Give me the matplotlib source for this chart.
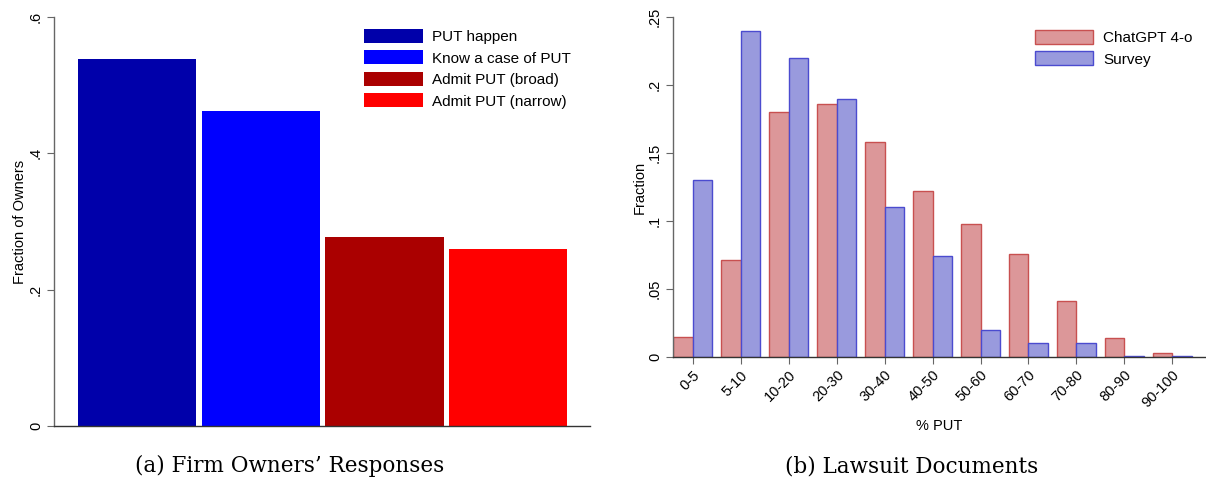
import numpy as np
import matplotlib
matplotlib.use("Agg")
import matplotlib.pyplot as plt
from matplotlib.patches import Patch

plt.rcParams['font.family'] = ['Liberation Sans', 'DejaVu Sans']

# Panel (a): firm owners' responses
owner_labels = ['PUT happen', 'Know a case of PUT', 'Admit PUT (broad)', 'Admit PUT (narrow)']
owner_values = [0.538, 0.462, 0.277, 0.260]
owner_colors = ['#0000AA', '#0000FF', '#AA0000', '#FF0000']

# Panel (b): lawsuit documents vs survey
bins = ['0-5', '5-10', '10-20', '20-30', '30-40', '40-50', '50-60', '60-70', '70-80', '80-90', '90-100']
chatgpt = [0.0145, 0.071, 0.180, 0.186, 0.158, 0.122, 0.098, 0.076, 0.0415, 0.0137, 0.0027]
survey = [0.130, 0.240, 0.220, 0.190, 0.110, 0.074, 0.020, 0.010, 0.010, 0.0006, 0.0006]

W, H = 1206, 488
fig = plt.figure(figsize=(W / 100, H / 100), dpi=100)

axis_gray = '#666666'


def fig_xy(px, py):
    # pixel position (from top-left) to figure fraction
    return px / W, 1 - py / H


# ---- left panel
ax1 = fig.add_axes([54 / W, (H - 426) / H, (590 - 54) / W, (426 - 17) / H])
x1 = np.arange(len(owner_values))
ax1.bar(x1, owner_values, width=0.955, color=owner_colors, edgecolor='none')
ax1.set_xlim(-0.67, 3.66)
ax1.set_ylim(0, 0.6)
ax1.set_yticks([0, 0.2, 0.4, 0.6])
ax1.set_yticklabels(['0', '.2', '.4', '.6'], rotation=90, va='center')
ax1.set_xticks([])
ax1.set_ylabel('Fraction of Owners', fontsize=10.5, labelpad=1)
handles = [Patch(facecolor=c, edgecolor='none', label=l) for c, l in zip(owner_colors, owner_labels)]
ax1.legend(handles=handles, loc='upper left', bbox_to_anchor=fig_xy(364, 29),
           bbox_transform=fig.transFigure, frameon=False, borderpad=0, borderaxespad=0,
           fontsize=11, handlelength=3.85, handleheight=1.0, labelspacing=0.42, handletextpad=0.6)

# ---- right panel
ax2 = fig.add_axes([673 / W, (H - 357) / H, (W - 673) / W, (357 - 17) / H])
x2 = np.arange(len(bins))
bw = 0.40
ax2.bar(x2 - bw / 2, chatgpt, width=bw, color='#DC9799', edgecolor='#C85050', linewidth=1, label='ChatGPT 4-o')
ax2.bar(x2 + bw / 2, survey, width=bw, color='#999ADD', edgecolor='#4B4BCF', linewidth=1, label='Survey')
ax2.set_xlim(-0.41, 10.7)
ax2.set_ylim(0, 0.25)
ax2.set_yticks([0, 0.05, 0.1, 0.15, 0.2, 0.25])
ax2.set_yticklabels(['0', '.05', '.1', '.15', '.2', '.25'], rotation=90, va='center')
ax2.set_xticks(x2)
ax2.set_xticklabels(bins, rotation=45, ha='right', rotation_mode='anchor')
ax2.set_ylabel('Fraction', fontsize=10.5, labelpad=1)
ax2.set_xlabel('% PUT', fontsize=10.5, labelpad=6)
ax2.legend(loc='upper left', bbox_to_anchor=fig_xy(1035, 30), bbox_transform=fig.transFigure,
           frameon=False, borderpad=0, borderaxespad=0, fontsize=11,
           handlelength=3.8, handleheight=1.0, labelspacing=0.42, handletextpad=0.65)

for ax in (ax1, ax2):
    ax.spines['top'].set_visible(False)
    ax.spines['right'].set_visible(False)
    ax.spines['left'].set_color(axis_gray)
    ax.spines['bottom'].set_color('#333333')
    ax.spines['left'].set_linewidth(1)
    ax.spines['bottom'].set_linewidth(1)
    ax.tick_params(colors=axis_gray, labelcolor='black', labelsize=10.5, length=5, pad=3)

# captions
fig.text(*fig_xy(290, 466), '(a) Firm Owners\u2019 Responses', ha='center', va='center',
         fontsize=15.5, family=['DejaVu Serif'])
fig.text(*fig_xy(912, 466), '(b) Lawsuit Documents', ha='center', va='center',
         fontsize=15.5, family=['DejaVu Serif'])

fig.savefig('out.png', dpi=100)
